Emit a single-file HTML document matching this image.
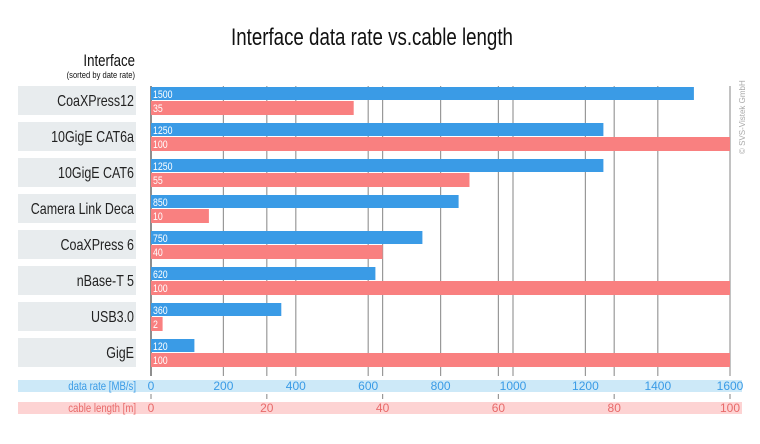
<!DOCTYPE html><html><head><style>body{margin:0;background:#fff}svg{display:block}text{font-family:"Liberation Sans",sans-serif}</style></head><body>
<svg width="760" height="444" xmlns="http://www.w3.org/2000/svg">
<text x="372" y="45" font-size="24" text-anchor="middle" transform="translate(372 0) scale(0.78 1) translate(-372 0)" fill="#111">Interface data rate vs.cable length</text>
<text x="135" y="66" font-size="17" text-anchor="end" transform="translate(135 0) scale(0.78 1) translate(-135 0)" fill="#111">Interface</text>
<text x="135" y="78" font-size="9.5" text-anchor="end" transform="translate(135 0) scale(0.8 1) translate(-135 0)" fill="#111">(sorted by date rate)</text>
<g fill="#e8ecee">
<rect x="18" y="86" width="118" height="29"/><rect x="18" y="122" width="118" height="29"/><rect x="18" y="158" width="118" height="29"/><rect x="18" y="194" width="118" height="29"/><rect x="18" y="230" width="118" height="29"/><rect x="18" y="266" width="118" height="29"/><rect x="18" y="302" width="118" height="29"/><rect x="18" y="338" width="118" height="29"/></g>
<rect x="18" y="380" width="724" height="12" fill="#cde9f8"/>
<rect x="18" y="402" width="724" height="12" fill="#fdd3d3"/>
<g stroke="#999" stroke-width="1.2">
<line x1="223.4" y1="86" x2="223.4" y2="376"/><line x1="295.8" y1="86" x2="295.8" y2="376"/><line x1="368.2" y1="86" x2="368.2" y2="376"/><line x1="440.6" y1="86" x2="440.6" y2="376"/><line x1="513" y1="86" x2="513" y2="376"/><line x1="585.4" y1="86" x2="585.4" y2="376"/><line x1="657.8" y1="86" x2="657.8" y2="376"/>
<line x1="266.8" y1="86" x2="266.8" y2="376"/><line x1="382.6" y1="86" x2="382.6" y2="376"/><line x1="498.4" y1="86" x2="498.4" y2="376"/><line x1="614.2" y1="86" x2="614.2" y2="376"/>
<line x1="266.8" y1="394" x2="266.8" y2="399"/><line x1="382.6" y1="394" x2="382.6" y2="399"/><line x1="498.4" y1="394" x2="498.4" y2="399"/><line x1="614.2" y1="394" x2="614.2" y2="399"/><line x1="730" y1="394" x2="730" y2="399"/><line x1="151" y1="394" x2="151" y2="399"/>
<line x1="730" y1="86" x2="730" y2="376"/></g>
<line x1="151" y1="86" x2="151" y2="376" stroke="#444" stroke-width="1.2"/>
<g fill="#3a9be6">
<rect x="151" y="87" width="542.9" height="13"/><rect x="151" y="123" width="452.4" height="13"/><rect x="151" y="159" width="452.4" height="13"/><rect x="151" y="195" width="307.6" height="13"/><rect x="151" y="231" width="271.4" height="13"/><rect x="151" y="267" width="224.4" height="13"/><rect x="151" y="303" width="130.3" height="13"/><rect x="151" y="339" width="43.4" height="13"/></g>
<g fill="#f98080">
<rect x="151" y="101" width="202.7" height="14"/><rect x="151" y="137" width="579" height="14"/><rect x="151" y="173" width="318.5" height="14"/><rect x="151" y="209" width="57.9" height="14"/><rect x="151" y="245" width="231.6" height="14"/><rect x="151" y="281" width="579" height="14"/><rect x="151" y="317" width="11.6" height="14"/><rect x="151" y="353" width="579" height="14"/></g>
<g font-size="16" fill="#222" text-anchor="end">
<text x="134" y="106" transform="translate(134 0) scale(0.78 1) translate(-134 0)">CoaXPress12</text>
<text x="134" y="142" transform="translate(134 0) scale(0.78 1) translate(-134 0)">10GigE CAT6a</text>
<text x="134" y="178" transform="translate(134 0) scale(0.78 1) translate(-134 0)">10GigE CAT6</text>
<text x="134" y="214" transform="translate(134 0) scale(0.78 1) translate(-134 0)">Camera Link Deca</text>
<text x="134" y="250" transform="translate(134 0) scale(0.78 1) translate(-134 0)">CoaXPress 6</text>
<text x="134" y="286" transform="translate(134 0) scale(0.78 1) translate(-134 0)">nBase-T 5</text>
<text x="134" y="322" transform="translate(134 0) scale(0.78 1) translate(-134 0)">USB3.0</text>
<text x="134" y="358" transform="translate(134 0) scale(0.78 1) translate(-134 0)">GigE</text></g>
<g font-size="11" fill="#fff" transform="translate(153 0) scale(0.8 1) translate(-153 0)">
<text x="153" y="98">1500</text><text x="153" y="112">35</text>
<text x="153" y="134">1250</text><text x="153" y="148">100</text>
<text x="153" y="170">1250</text><text x="153" y="184">55</text>
<text x="153" y="206">850</text><text x="153" y="220">10</text>
<text x="153" y="242">750</text><text x="153" y="256">40</text>
<text x="153" y="278">620</text><text x="153" y="292">100</text>
<text x="153" y="314">360</text><text x="153" y="328">2</text>
<text x="153" y="350">120</text><text x="153" y="364">100</text></g>
<g font-size="12" fill="#3a9be6" text-anchor="middle">
<text x="136" y="390" text-anchor="end" transform="translate(136 0) scale(0.8 1) translate(-136 0)">data rate [MB/s]</text>
<text x="151" y="390">0</text><text x="223.4" y="390">200</text><text x="295.8" y="390">400</text><text x="368.2" y="390">600</text><text x="440.6" y="390">800</text><text x="513" y="390">1000</text><text x="585.4" y="390">1200</text><text x="657.8" y="390">1400</text><text x="730" y="390">1600</text></g>
<g font-size="12" fill="#e86a6a" text-anchor="middle">
<text x="136" y="412" text-anchor="end" transform="translate(136 0) scale(0.8 1) translate(-136 0)">cable length [m]</text>
<text x="151" y="412">0</text><text x="266.8" y="412">20</text><text x="382.6" y="412">40</text><text x="498.4" y="412">60</text><text x="614.2" y="412">80</text><text x="730" y="412">100</text></g>
<text x="0" y="0" font-size="8" fill="#aaa" transform="translate(745 154) rotate(-90)">© SVS-Vistek GmbH</text>
</svg></body></html>
